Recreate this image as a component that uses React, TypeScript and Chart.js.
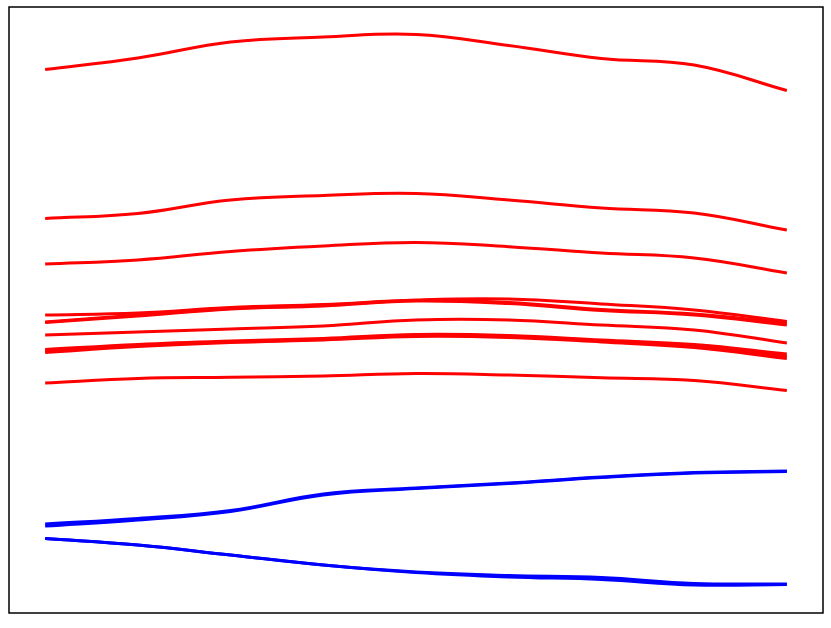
import React, { useEffect, useRef } from "react";
import { Chart, registerables } from "chart.js";

Chart.register(...registerables);

const steps = [0, 1, 2, 3, 4, 5, 6, 7, 8];

const red1 = [89.69, 91.58, 94.22, 95.05, 95.46, 93.65, 91.5, 90.43, 86.22];
const red2 = [65.1, 65.92, 68.15, 68.89, 69.22, 68.15, 66.83, 66.01, 63.2];
const red3 = [57.59, 58.25, 59.65, 60.56, 61.14, 60.45, 59.41, 58.58, 56.11];
const redA1 = [49.17, 49.5, 50.41, 50.91, 51.65, 51.82, 50.99, 50.0, 48.1];
const redA2 = [48.02, 49.17, 50.25, 50.74, 51.57, 51.24, 50.08, 49.34, 47.85];
const redA3 = [47.94, 49.01, 50.17, 50.66, 51.49, 51.07, 49.92, 49.17, 47.52];
const redB = [45.87, 46.37, 46.86, 47.36, 48.35, 48.35, 47.52, 46.7, 44.55];
const redC1 = [43.48, 44.31, 44.88, 45.3, 45.96, 45.79, 45.05, 44.31, 42.74];
const redC2 = [43.23, 44.14, 44.77, 45.17, 45.79, 45.63, 44.88, 44.06, 42.33];
const redC3 = [42.99, 43.98, 44.64, 45.05, 45.63, 45.46, 44.72, 43.81, 42.0];
const redD = [37.95, 38.7, 38.89, 39.11, 39.52, 39.27, 38.81, 38.37, 36.72];
const blueU1 = [14.69, 15.59, 16.91, 19.64, 20.63, 21.45, 22.44, 23.18, 23.43];
const blueU2 = [14.36, 15.35, 16.75, 19.47, 20.54, 21.37, 22.36, 23.1, 23.35];
const blueL1 = [12.29, 11.22, 9.57, 7.92, 6.77, 6.19, 5.86, 4.87, 4.79];
const blueL2 = [12.29, 11.22, 9.57, 7.92, 6.68, 5.94, 5.53, 4.62, 4.7];

const redSeries = [red1, red2, red3, redA1, redA2, redA3, redB, redC1, redC2, redC3, redD];
const blueSeries = [blueU1, blueU2, blueL1, blueL2];

const framePlugin = {
  id: "frame",
  afterDraw(chart: any) {
    const { ctx, chartArea } = chart;
    ctx.save();
    ctx.strokeStyle = "#000";
    ctx.lineWidth = 1.5;
    ctx.strokeRect(chartArea.left, chartArea.top, chartArea.right - chartArea.left, chartArea.bottom - chartArea.top);
    ctx.restore();
  },
};

export default function App() {
  const ref = useRef<HTMLCanvasElement>(null);
  useEffect(() => {
    const mk = (vals: number[], color: string) => ({
      data: vals.map((v, i) => ({ x: steps[i], y: v })),
      borderColor: color,
      backgroundColor: color,
      borderWidth: 3,
      pointRadius: 0,
      tension: 0.4,
      fill: false,
    });
    const chart = new Chart(ref.current!, {
      type: "line",
      data: {
        datasets: [
          ...redSeries.map((s) => mk(s, "#ff0000")),
          ...blueSeries.map((s) => mk(s, "#0000ff")),
        ],
      },
      options: {
        responsive: false,
        animation: false,
        layout: { padding: { left: 9, top: 7, right: 8, bottom: 15 } },
        plugins: { legend: { display: false }, tooltip: { enabled: false } },
        scales: {
          x: { type: "linear", min: -0.39, max: 8.39, display: false },
          y: { type: "linear", min: 0, max: 100, display: false },
        },
      },
      plugins: [framePlugin],
    });
    return () => chart.destroy();
  }, []);
  return (
    <div style={{ position: "fixed", left: 0, top: 0, width: 831, height: 628, background: "#fff" }}>
      <canvas ref={ref} width={831} height={628} />
    </div>
  );
}
